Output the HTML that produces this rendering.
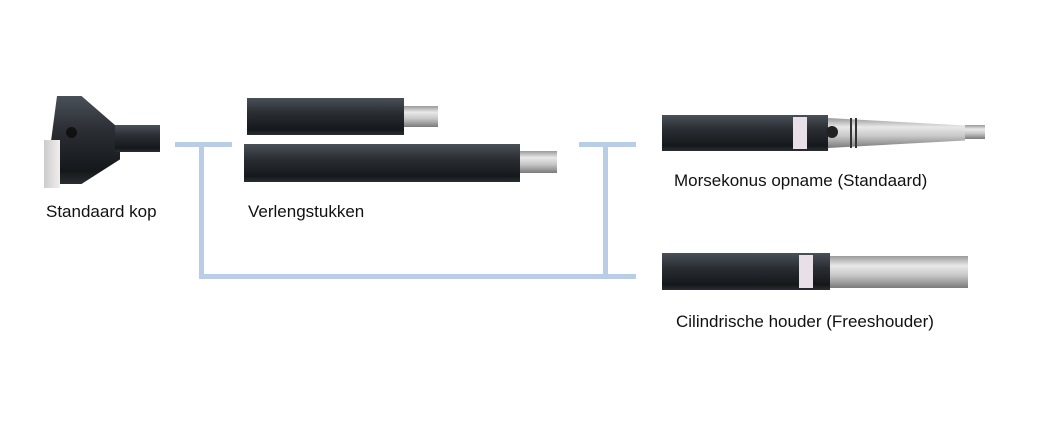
<!DOCTYPE html>
<html><head><style>
body{margin:0;width:1054px;height:447px;background:#fff;position:relative;overflow:hidden;font-family:"Liberation Sans",sans-serif;}
div{position:absolute;}
.b{background:#b9cde6;}
.dk{background:linear-gradient(#4a5058,#2a2e33 40%,#15181b 85%,#2a2d31);}
.sv{background:linear-gradient(#9a9a9a,#e8e8e8 30%,#c8c8c8 60%,#7a7a7a);}
.t{font-size:17px;color:#111;white-space:nowrap;}
</style></head><body>
<div class="b" style="left:175px;top:142px;width:57px;height:5px"></div>
<div class="b" style="left:199px;top:142px;width:5px;height:137px"></div>
<div class="b" style="left:199px;top:274px;width:437px;height:5px"></div>
<div class="b" style="left:579px;top:142px;width:57px;height:5px"></div>
<div class="b" style="left:603px;top:142px;width:5px;height:137px"></div>
<div class="dk" style="left:50px;top:96px;width:70px;height:88px;clip-path:polygon(10% 0,45% 0,100% 38%,100% 72%,45% 100%,10% 100%,0 60%)"></div>
<div style="left:44px;top:140px;width:16px;height:48px;background:linear-gradient(90deg,#ccc,#f2eeee)"></div>
<div class="dk" style="left:115px;top:125px;width:45px;height:27px"></div>
<div style="left:66px;top:127px;width:11px;height:11px;border-radius:50%;background:#111"></div>
<div class="dk" style="left:247px;top:98px;width:157px;height:37px"></div>
<div class="sv" style="left:404px;top:106px;width:34px;height:21px"></div>
<div class="dk" style="left:244px;top:144px;width:276px;height:38px"></div>
<div class="sv" style="left:520px;top:151px;width:37px;height:22px"></div>
<div class="dk" style="left:662px;top:115px;width:166px;height:36px"></div>
<div style="left:793px;top:117px;width:14px;height:32px;background:#e8dfe8"></div>
<div class="sv" style="left:828px;top:118px;width:137px;height:30px;clip-path:polygon(0 0,100% 25%,100% 75%,0 100%)"></div>
<div style="left:826px;top:126px;width:12px;height:12px;border-radius:50%;background:#222"></div>
<div style="left:850px;top:118px;width:2px;height:30px;background:#333"></div>
<div style="left:855px;top:118px;width:2px;height:30px;background:#333"></div>
<div class="sv" style="left:965px;top:125px;width:20px;height:14px"></div>
<div class="dk" style="left:662px;top:253px;width:168px;height:37px"></div>
<div style="left:799px;top:255px;width:14px;height:33px;background:#e8dfe8"></div>
<div class="sv" style="left:830px;top:256px;width:138px;height:32px"></div>
<div class="t" style="left:46px;top:202px">Standaard kop</div>
<div class="t" style="left:248px;top:202px">Verlengstukken</div>
<div class="t" style="left:674px;top:171px">Morsekonus opname (Standaard)</div>
<div class="t" style="left:676px;top:312px">Cilindrische houder (Freeshouder)</div>
</body></html>
